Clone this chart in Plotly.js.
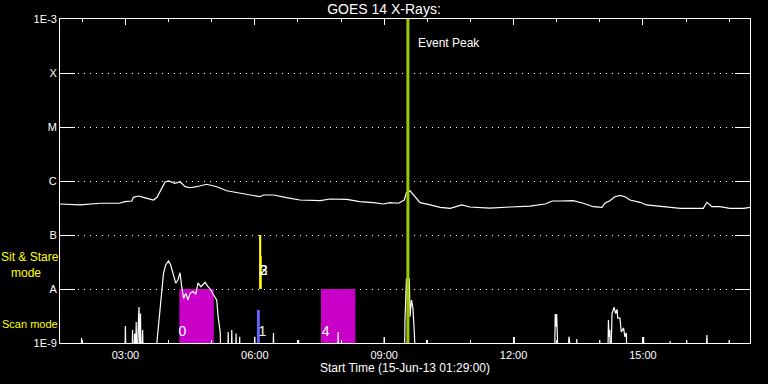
<!DOCTYPE html>
<html>
<head>
<meta charset="utf-8">
<script src="https://cdn.plot.ly/plotly-3.0.1.min.js"></script>
<style>html,body{margin:0;padding:0;background:#000;}#chart{width:768px;height:384px;}</style>
</head>
<body>
<div id="chart"></div>
<script>
// ---- data ----
const day = '2013-06-15 ';
// long channel (upper curve)
const upTime = ['01:29','01:57','02:25','02:52','02:59','03:09','03:11','03:18','03:25','03:39','03:44','03:48','03:55','04:00','04:04','04:09','04:16','04:23','04:30','04:39','04:53','05:07','05:21','05:39','05:58','06:07','06:12','06:26','06:44','07:03','07:31','07:45','08:08','08:26','08:45','08:59','09:08','09:20','09:28','09:31','09:36','09:43','09:50','10:04','10:18','10:32','10:48','10:59','11:27','11:55','12:23','12:44','12:54','13:05','13:23','13:37','13:51','14:03','14:07','14:14','14:21','14:28','14:35','14:42','14:56','15:05','15:24','15:42','15:52','16:24','16:29','16:36','16:47','17:01','17:20','17:29'];
const upFlux = [3.75e-7,3.60e-7,3.87e-7,3.87e-7,4.14e-7,4.26e-7,4.99e-7,5.27e-7,4.99e-7,4.45e-7,4.99e-7,6.34e-7,9.46e-7,1.0e-6,9.7e-7,9.07e-7,9.7e-7,7.84e-7,7.5e-7,7.84e-7,8.69e-7,7.84e-7,6.6e-7,5.92e-7,5.27e-7,5.12e-7,5.51e-7,5.51e-7,4.91e-7,4.45e-7,4.32e-7,4.64e-7,4.58e-7,4.14e-7,3.97e-7,3.75e-7,3.97e-7,3.87e-7,4.45e-7,6.07e-7,6.6e-7,5.12e-7,3.97e-7,3.60e-7,3.26e-7,3.12e-7,3.6e-7,3.3e-7,3.15e-7,3.3e-7,3.44e-7,3.75e-7,4.26e-7,4.26e-7,4.32e-7,3.87e-7,3.34e-7,3.26e-7,3.87e-7,4.32e-7,5.12e-7,5.43e-7,5.12e-7,4.45e-7,4.03e-7,3.60e-7,3.34e-7,3.20e-7,3.12e-7,3.12e-7,4.03e-7,3.34e-7,3.34e-7,3.12e-7,3.12e-7,3.26e-7];
// short channel (lower curve), values below 1E-9 fall off the plot
const lowTime = ['01:30','01:58','01:59','02:00','02:59','03:00','03:01','03:09','03:10','03:11','03:13','03:14','03:15','03:16','03:18','03:19','03:20','03:21','03:22','03:24','03:25','03:43','03:44','03:47','03:51','03:53','03:56','04:00','04:03','04:07','04:10','04:13','04:16','04:18','04:21','04:24','04:27','04:30','04:34','04:38','04:41','04:45','04:51','04:55','04:59','05:02','05:07','05:09','05:12','05:13','05:22','05:23','05:24','05:27','05:28','05:29','05:33','05:34','05:35','05:38','05:39','05:40','05:59','06:00','06:01','06:25','06:26','06:27','07:00','07:01','07:02','07:55','07:56','07:57','08:59','09:00','09:01','09:28','09:29','09:31','09:33','09:35','09:36','09:38','09:40','09:42','09:44','09:58','09:59','10:00','12:00','12:01','12:02','12:57','12:58','12:59','13:00','13:01','13:02','13:16','13:17','13:18','13:19','13:27','13:28','13:29','13:59','14:00','14:01','14:11','14:12','14:13','14:14','14:15','14:16','14:17','14:20','14:22','14:24','14:25','14:28','14:30','14:33','14:35','14:37','14:38','15:00','15:01','15:02','15:37','15:38','15:39','16:00','16:01','16:02','16:27','16:29','16:31','16:59','17:00','17:01','17:29'];
const lowFlux = [3e-10,3e-10,1.24e-9,3e-10,3e-10,2.07e-9,3e-10,3e-10,1.74e-9,3e-10,1.5e-9,3e-10,2.45e-9,3e-10,2.5e-9,4.64e-9,3e-10,3.5e-9,3e-10,1.74e-9,3e-10,3e-10,1.1e-9,3.07e-9,1.10e-8,1.95e-8,2.78e-8,3.3e-8,2.78e-8,1.69e-8,1.28e-8,1.47e-8,2.0e-8,1.19e-8,6.73e-9,8.3e-9,6.25e-9,8.32e-9,9.0e-9,8.0e-9,1.3e-8,1.1e-8,1.33e-8,1.1e-8,9.58e-9,8.0e-9,6.25e-9,3.07e-9,1.53e-9,3e-10,3e-10,1.6e-9,3e-10,3e-10,1.74e-9,3e-10,3e-10,1.5e-9,3e-10,3e-10,1.3e-9,3e-10,3e-10,1.31e-9,3e-10,3e-10,1.53e-9,3e-10,3e-10,1.14e-9,3e-10,3e-10,1.6e-9,3e-10,3e-10,1.29e-9,3e-10,3e-10,2.67e-9,1.58e-8,4e-9,1.58e-8,3.07e-9,6.25e-9,4.5e-9,1.53e-9,3e-10,3e-10,1.14e-9,3e-10,3e-10,1.29e-9,3e-10,3e-10,3.44e-9,2e-9,3.44e-9,1.3e-9,3e-10,3e-10,1.31e-9,1.1e-9,3e-10,3e-10,1.19e-9,3e-10,3e-10,1.14e-9,3e-10,3e-10,2.67e-9,1.3e-9,1.74e-9,3e-10,2.0e-9,3.5e-9,4.58e-9,3.5e-9,4.2e-9,2.9e-9,2.9e-9,1.6e-9,1.9e-9,1.3e-9,1.53e-9,3e-10,3e-10,1.29e-9,3e-10,3e-10,1.09e-9,3e-10,3e-10,1.14e-9,3e-10,3e-10,1.41e-9,3e-10,3e-10,1.14e-9,3e-10,3e-10];
// observations
const obsLabel = ['0','4','1','2','3'];
const obsStart = ['04:15','07:32','06:03','06:06','06:09'];
const obsEnd   = ['05:03','08:20','06:07','06:09','06:10'];
const obsLow   = [1e-9,1e-9,1e-9,1e-8,1e-8];
const obsHigh  = [1e-8,1e-8,4.08e-9,1e-7,4.08e-8];
const obsLabelTime = ['04:14','07:33','06:05','06:07','06:07'];
const obsLabelFlux = [1.56e-9,1.56e-9,1.56e-9,2.07e-8,2.07e-8];
const eventPeak = '09:33';
const yTickVals = [1e-9,1e-8,1e-7,1e-6,1e-5,1e-4,1e-3];
const yTickText = ['1E-9','A','B','C','M','X','1E-3'];

// ---- styles ----
const obsColor = ['#c800c8','#c800c8','#6464ff','#ffff00','#ffff00'];
const font = 'Liberation Sans, Arial, sans-serif';

const traces = [];
obsStart.forEach((s,i)=>{
  traces.push({
    x:[day+s,day+obsEnd[i],day+obsEnd[i],day+s,day+s],
    y:[obsLow[i],obsLow[i],obsHigh[i],obsHigh[i],obsLow[i]],
    mode:'lines', fill:'toself', fillcolor:obsColor[i],
    line:{width:0,color:obsColor[i]}, hoverinfo:'skip', showlegend:false
  });
});
traces.push({x:upTime.map(t=>day+t), y:upFlux, mode:'lines', line:{color:'#ffffff',width:1.2}, hoverinfo:'skip', showlegend:false});
traces.push({x:lowTime.map(t=>day+t), y:lowFlux, mode:'lines', line:{color:'#ffffff',width:1.2}, hoverinfo:'skip', showlegend:false});
traces.push({x:[day+eventPeak,day+eventPeak], y:[1e-9,1e-3], mode:'lines', line:{color:'#9bc800',width:3}, hoverinfo:'skip', showlegend:false});
obsLabel.forEach((l,i)=>{
  traces.push({x:[day+obsLabelTime[i]], y:[obsLabelFlux[i]], mode:'text', text:[l], textposition:'middle right',
    textfont:{color:'#ffffff',size:14,family:font}, hoverinfo:'skip', showlegend:false});
});

const layout = {
  width:768, height:384,
  paper_bgcolor:'#000000', plot_bgcolor:'#000000',
  margin:{l:60,r:18,t:19,b:41},
  font:{family:font,color:'#ffffff',size:11},
  title:{text:'GOES 14 X-Rays:', x:0.5, xref:'container', y:0.977, yref:'container', yanchor:'middle',
    font:{family:font,size:14,color:'#ffffff'}},
  xaxis:{type:'date', range:[day+'01:29',day+'17:29'], tick0:day+'00:00', dtick:10800000, tickformat:'%H:%M',
    showline:true, linecolor:'#ffffff', linewidth:1, mirror:'allticks', ticks:'inside', ticklen:6, tickcolor:'#ffffff', tickwidth:1,
    showgrid:false, zeroline:false, ticklabelstandoff:2,
    minor:{dtick:3600000, ticks:'inside', ticklen:3, tickcolor:'#ffffff', tickwidth:1, showgrid:false},
    tickfont:{family:font,size:11,color:'#ffffff'},
    title:{text:'Start Time (15-Jun-13 01:29:00)', font:{family:font,size:12,color:'#ffffff'}, standoff:3}},
  yaxis:{type:'log', range:[-9,-3], tickmode:'array', tickvals:yTickVals, ticktext:yTickText,
    showline:true, linecolor:'#ffffff', linewidth:1, mirror:'allticks', ticks:'inside', ticklen:15, tickcolor:'#ffffff', tickwidth:1,
    showgrid:true, gridcolor:'#ffffff', gridwidth:1, griddash:'1px,5px', zeroline:false,
    tickfont:{family:font,size:11,color:'#ffffff'}},
  annotations:[
    {text:'Sit & Stare<br>\u00a0\u00a0\u00a0mode', xref:'paper', yref:'paper', x:-0.087, y:0.241, xanchor:'left', yanchor:'middle', align:'left', borderpad:0, showarrow:false, font:{family:font,size:12,color:'#ffff00'}},
    {text:'Scan mode', xref:'paper', yref:'paper', x:-0.087, y:0.0586, xanchor:'left', yanchor:'middle', showarrow:false, font:{family:font,size:11,color:'#ffff00'}},
    {text:'Event Peak', xref:'paper', yref:'paper', x:0.516, y:0.926, xanchor:'left', yanchor:'middle', showarrow:false, font:{family:font,size:12,color:'#ffffff'}}
  ]
};
Plotly.newPlot('chart', traces, layout, {staticPlot:true, displayModeBar:false});
</script>
</body>
</html>
